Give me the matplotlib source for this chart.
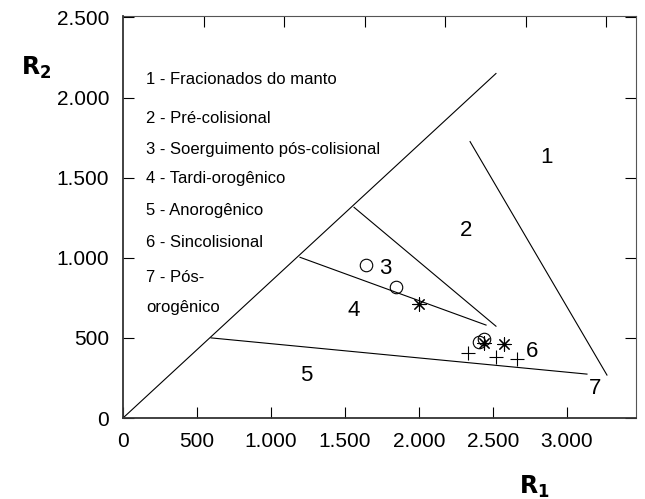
import matplotlib.pyplot as plt
import matplotlib.ticker as ticker

plt.rcParams['font.family'] = ['Liberation Sans', 'DejaVu Sans']

# field boundaries (R1, R2)
diag_x = [0, 2520]
diag_y = [0, 2150]
b12_x = [2345, 3270]
b12_y = [1725, 268]
b5_x = [595, 3135]
b5_y = [500, 274]
b23_x = [1561, 2520]
b23_y = [1315, 573]
b34_x = [1196, 2453]
b34_y = [1003, 580]

# samples
circ_x = [1642, 1844, 2405, 2439]
circ_y = [953, 816, 474, 492]
star_x = [2000, 2439, 2574]
star_y = [710, 467, 461]
plus_x = [2331, 2520, 2662]
plus_y = [405, 380, 368]

legend_lines = ['1 - Fracionados do manto', '2 - Pré-colisional',
                '3 - Soerguimento pós-colisional', '4 - Tardi-orogênico',
                '5 - Anorogênico', '6 - Sincolisional', '7 - Pós-', 'orogênico']
legend_y = [2112, 1869, 1676, 1495, 1296, 1097, 879, 692]

field_names = ['1', '2', '3', '4', '5', '6', '7']
field_x = [2864, 2318, 1770, 1561, 1236, 2764, 3190]
field_y = [1626, 1171, 935, 673, 268, 417, 187]

fig = plt.figure(figsize=(6.45, 4.99), dpi=100)
ax = fig.add_axes([0.1907, 0.1623, 0.7953, 0.806])

for xs, ys in [(diag_x, diag_y), (b12_x, b12_y), (b5_x, b5_y),
               (b23_x, b23_y), (b34_x, b34_y)]:
    ax.plot(xs, ys, color='black', lw=0.8)

ax.plot(circ_x, circ_y, 'o', ms=9, mfc='none', mec='black', mew=0.8)
ax.scatter(star_x, star_y, marker=(8, 2, 0), s=90, c='black', linewidths=0.8)
ax.scatter(plus_x, plus_y, marker='+', s=90, c='black', linewidths=0.8)

for t, y in zip(legend_lines, legend_y):
    ax.text(155, y, t, fontsize=12, ha='left', va='center')
for t, x, y in zip(field_names, field_x, field_y):
    ax.text(x, y, t, fontsize=16, ha='center', va='center')

ax.set_xlim(0, 3466)
ax.set_ylim(0, 2510)

ax.yaxis.set_major_locator(ticker.MultipleLocator(500))
fmt = ticker.FuncFormatter(lambda v, p: f'{int(v):,}'.replace(',', '.'))
ax.xaxis.set_major_formatter(fmt)
ax.yaxis.set_major_formatter(fmt)
ax.set_xticks([0, 500, 1000, 1500, 2000, 2500, 3000])
ax.tick_params(direction='in', length=8, width=0.8, labelsize=15, pad=10,
               right=True)

# top axis has its own tick spacing in the original figure
top = ax.secondary_xaxis('top')
top.set_xticks([544 * k for k in range(1, 7)])
top.tick_params(direction='in', length=8, width=0.8, labeltop=False)
top.spines['top'].set_color('#555555')

for s in ['bottom', 'left']:
    ax.spines[s].set_linewidth(1.3)
    ax.spines[s].set_color('#333333')
ax.spines['right'].set_color('#555555')
ax.spines['top'].set_visible(False)

fig.text(0.033, 0.85, r'$\mathbf{R_2}$', fontsize=17)
fig.text(0.805, 0.01, r'$\mathbf{R_1}$', fontsize=17)

fig.savefig('out.png', dpi=100)
